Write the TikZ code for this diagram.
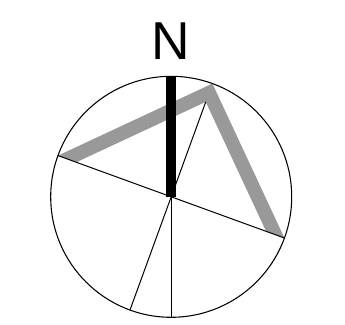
\documentclass[tikz,border=0pt]{standalone}
\usepackage{fontspec}
\setmainfont{Liberation Sans}
\usepackage{tikz}
\usetikzlibrary{calc}
\definecolor{BandGray}{HTML}{999999}

\begin{document}
\begin{tikzpicture}[x=0.75pt,y=0.75pt]
\tikzstyle{rim}=[draw=black,line width=0.8pt]
\tikzstyle{spoke}=[draw=black,line width=0.75pt]
\tikzstyle{band}=[fill=BandGray,draw=none]
\tikzstyle{needle}=[draw=black,line width=7.2pt]
\useasboundingbox (-171.2,-127.2) rectangle (173.8,196.8);
\coordinate (hub) at (0,0);
\coordinate (west) at (160:120.5);
\coordinate (east) at (-20:120.5);
\coordinate (apex) at (70:120.5);
\coordinate (inwest) at (160:101);
\coordinate (ineast) at (-20:101);
\coordinate (inapex) at (70:101);
\coordinate (south) at (-90:120.5);
\coordinate (southwest) at (-110:120.5);
\coordinate (top) at (90:120.5);
\fill[band] (west) -- (apex) -- (east) -- (ineast) -- (inapex) -- (inwest) -- cycle;
\draw[spoke] (west) -- (east);
\draw[spoke] (hub) -- (inapex);
\draw[spoke] (hub) -- (south);
\draw[spoke] (hub) -- (southwest);
\draw[rim] (hub) circle (120.5);
\draw[needle] (hub) -- (top);
\node[anchor=base,inner sep=0pt,font=\fontsize{40}{48}\selectfont] (north) at (0,136.8) {N};
\end{tikzpicture}
\end{document}
